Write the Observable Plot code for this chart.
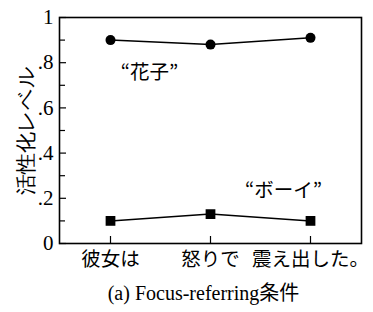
<!DOCTYPE html>
<html><head><meta charset="utf-8">
<script src="https://cdn.jsdelivr.net/npm/d3@7"></script>
<script src="https://cdn.jsdelivr.net/npm/@observablehq/plot@0.6"></script>
<style>body{margin:0;background:#fff}</style>
</head><body><div id="chart"></div>
<script>
const categories = ["彼女は", "怒りで", "震え出した。"];
const hanakoValues = [0.90, 0.88, 0.91];
const boyValues = [0.10, 0.13, 0.10];
const seriesNames = ["“花子”", "“ボーイ”"];
const labelAt = ["彼女は", "震え出した。"];
const labelY = [0.757, 0.235];
const majorTicks = [0, 0.2, 0.4, 0.6, 0.8, 1];
const majorTickLabels = ["0", ".2", ".4", ".6", ".8", "1"];
const minorTicks = [0.1, 0.3, 0.5, 0.7, 0.9];
const yLabel = "活性化レベル";
const caption = "(a) Focus-referring条件";

const W = 373, H = 312, mL = 59, mR = 12, mT = 17, mB = 69;
const fw = W - mL - mR, fh = H - mT - mB;
const labelDx = [39, -27];

const hanako = categories.map((c, i) => ({x: c, y: hanakoValues[i]}));
const boy = categories.map((c, i) => ({x: c, y: boyValues[i]}));

const chart = Plot.plot({
  width: W, height: H,
  marginLeft: mL, marginRight: mR, marginTop: mT, marginBottom: mB,
  style: {background: "#fff", color: "#000"},
  x: {type: "point", domain: categories, padding: 0.5},
  y: {domain: [0, 1]},
  marks: [
    Plot.axisY(majorTicks, {tickSize: 0, tickPadding: 6, tickFormat: (d) => majorTickLabels[majorTicks.indexOf(d)],
      fontFamily: "Liberation Serif", fontSize: 21, label: yLabel, labelAnchor: "center", labelArrow: "none", labelOffset: 41}),
    Plot.axisX({tickSize: 0, tickPadding: 9, fontFamily: "Noto Sans CJK JP", fontSize: 19.5, label: null}),
    Plot.tickY(majorTicks, {y: d => d, insetRight: fw - 7, stroke: "#000", strokeWidth: 1.2}),
    Plot.tickY(minorTicks, {y: d => d, insetRight: fw - 6, stroke: "#000", strokeWidth: 1.2}),
    Plot.tickX(categories, {x: d => d, insetTop: fh - 7, stroke: "#000", strokeWidth: 1.2}),
    Plot.frame({stroke: "#000", strokeWidth: 1.6}),
    Plot.line(hanako, {x: "x", y: "y", stroke: "#000", strokeWidth: 1.5}),
    Plot.dot(hanako, {x: "x", y: "y", r: 5, fill: "#000", stroke: "none"}),
    Plot.line(boy, {x: "x", y: "y", stroke: "#000", strokeWidth: 1.5}),
    Plot.dot(boy, {x: "x", y: "y", symbol: "square", r: 5.5, fill: "#000", stroke: "none"}),
    Plot.text([seriesNames[0]], {x: () => labelAt[0], y: () => labelY[0], text: d => d, dx: labelDx[0],
      fontFamily: "Noto Sans CJK JP", fontSize: 19.5, fill: "#000"}),
    Plot.text([seriesNames[1]], {x: () => labelAt[1], y: () => labelY[1], text: d => d, dx: labelDx[1],
      fontFamily: "Noto Sans CJK JP", fontSize: 19.5, fill: "#000"}),
    Plot.text([caption], {frameAnchor: "bottom", dy: 56, dx: -7, text: d => d,
      fontFamily: "Liberation Serif, Noto Sans CJK JP", fontSize: 20, fill: "#000"})
  ]
});
document.getElementById("chart").appendChild(chart);
</script></body></html>
